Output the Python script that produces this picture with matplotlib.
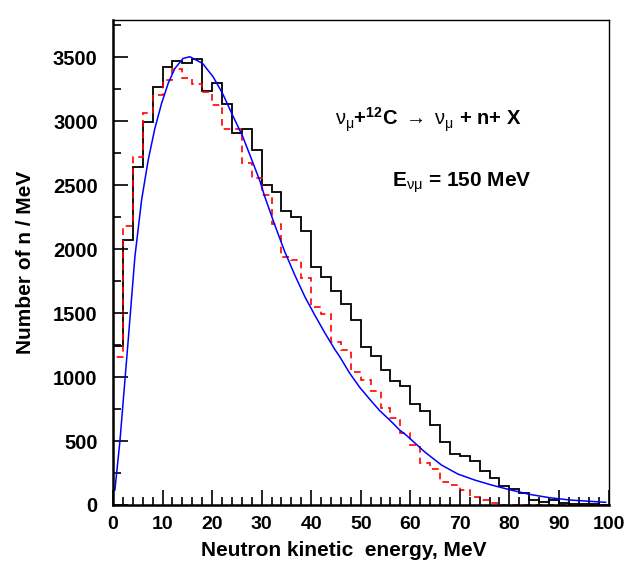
import numpy as np
import matplotlib
matplotlib.use("Agg")
import matplotlib.pyplot as plt
from matplotlib.ticker import MultipleLocator

plt.rcParams['font.family'] = ['Liberation Sans', 'DejaVu Sans']
plt.rcParams['mathtext.fontset'] = 'custom'
plt.rcParams['mathtext.rm'] = 'Liberation Sans'
plt.rcParams['mathtext.it'] = 'Liberation Sans:italic'
plt.rcParams['mathtext.bf'] = 'Liberation Sans:bold'

# 2 MeV bins from 0 to 100 MeV
bin_edges = np.arange(0, 101, 2)

# black solid histogram
black_counts = [1242, 2070, 2638, 2994, 3268, 3422, 3471, 3452, 3482, 3236,
                3294, 3132, 2907, 2935, 2776, 2500, 2445, 2297, 2253, 2138,
                1862, 1781, 1670, 1570, 1445, 1232, 1167, 1055, 969, 933,
                791, 737, 622, 492, 396, 383, 341, 264, 212, 145,
                125, 91, 40, 27, 37, 14, 8, 6, 4, 3]

# red dashed histogram
red_counts = [1156, 2180, 2721, 3060, 3205, 3320, 3408, 3340, 3292, 3225,
              3125, 2935, 2935, 2674, 2556, 2422, 2193, 1940, 1914, 1776,
              1544, 1492, 1276, 1214, 1042, 977, 891, 760, 682, 560,
              469, 331, 283, 182, 156, 120, 62, 39, 12, 0,
              0, 0, 0, 0, 0, 0, 0, 0, 0, 0]

# blue curve
blue_e = [0.38, 1.39, 3.07, 4.42, 5.77, 7.10, 8.45, 9.80, 11.13, 12.48,
          14.16, 15.51, 18.07, 20.21, 22.11, 24.12, 26.14, 28.16, 29.63, 30.64,
          32.65, 34.67, 36.69, 38.71, 40.72, 42.74, 44.76, 45.76, 47.78, 49.80,
          51.82, 53.83, 55.85, 57.87, 59.2, 62.9, 66.3, 69.6, 73.0, 76.4,
          80.0, 84.1, 88.1, 92.2, 96.2, 99.4]
blue_v = [117, 495, 1289, 1940, 2383, 2695, 2943, 3138, 3294, 3411,
          3490, 3503, 3451, 3346, 3216, 3047, 2883, 2682, 2534, 2409,
          2188, 1979, 1797, 1628, 1484, 1346, 1216, 1159, 1029, 919,
          826, 737, 664, 585, 545, 415, 312, 242, 195, 156,
          120, 83, 57, 39, 29, 21]

fig = plt.figure(figsize=(6.43, 5.72), dpi=100)
ax = fig.add_axes([113/643, 67/572, 495.5/643, 485/572])

ax.stairs(black_counts, bin_edges, color='black', lw=1.3, baseline=0)
ax.stairs(red_counts, bin_edges, color='red', lw=1.2, linestyle=(0, (4, 3)), baseline=0)
ax.plot(blue_e, blue_v, color='blue', lw=1.1)

ax.set_xlim(0, 100)
ax.set_ylim(0, 3790)
ax.xaxis.set_major_locator(MultipleLocator(10))
ax.xaxis.set_minor_locator(MultipleLocator(2))
ax.yaxis.set_major_locator(MultipleLocator(500))
ax.yaxis.set_minor_locator(MultipleLocator(250))
ax.tick_params(which='both', direction='in', top=False, right=False, width=1.2)
ax.tick_params(which='major', length=11)
ax.tick_params(which='minor', length=6)
ax.tick_params(axis='x', pad=8, labelsize=14)
ax.tick_params(axis='y', pad=11, labelsize=14.5)
for lab in ax.get_xticklabels() + ax.get_yticklabels():
    lab.set_fontweight('bold')

for s in ['left', 'bottom']:
    ax.spines[s].set_linewidth(1.8)
for s in ['top', 'right']:
    ax.spines[s].set_linewidth(1.0)

ax.set_xlabel('Neutron kinetic  energy, MeV', fontsize=15, fontweight='bold')
ax.set_ylabel('Number of n / MeV', fontsize=15, fontweight='bold')
ax.xaxis.set_label_coords(0.466, -0.074)
ax.yaxis.set_label_coords(-0.158, 0.5)

ax.text(0.448, 0.7835,
        r'$\mathrm{\nu}_{\mathrm{\mu}}$+$^{\mathbf{12}}$C $\rightarrow$ $\mathrm{\nu}_{\mathrm{\mu}}$ + n+ X',
        transform=ax.transAxes, fontsize=14.5, fontweight='bold', ha='left', va='baseline')
ax.text(0.563, 0.656, r'E$_{\mathrm{\nu\mu}}$ = 150 MeV',
        transform=ax.transAxes, fontsize=15, fontweight='bold', ha='left', va='baseline')

fig.savefig('out.png', dpi=100)
